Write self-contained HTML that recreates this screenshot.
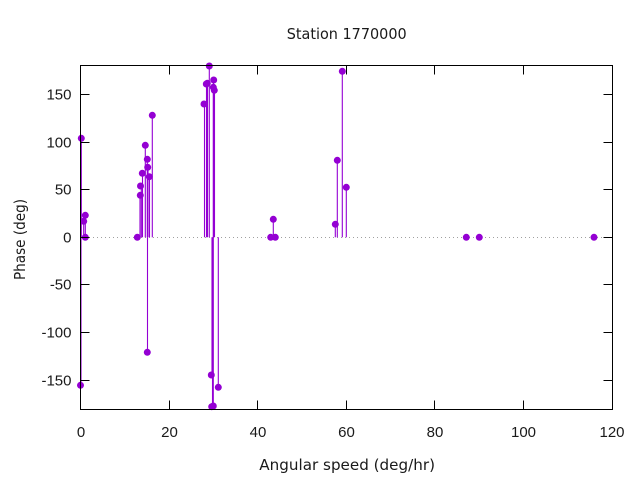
<!DOCTYPE html>
<html><head><meta charset="utf-8"><style>
html,body{margin:0;padding:0;background:#fff;}
svg{display:block;}
</style></head><body>
<svg width="640" height="480" viewBox="0 0 640 480" xmlns="http://www.w3.org/2000/svg">
<rect width="640" height="480" fill="#fff"/>
<!-- zero line -->
<line x1="81" y1="237.5" x2="612" y2="237.5" stroke="#a0a0a0" stroke-width="1" stroke-dasharray="1 3"/>
<!-- stems -->
<g stroke="#9400d3" stroke-width="1.1">
<line x1="81.3" y1="237.3" x2="81.3" y2="138.3"/>
<line x1="81" y1="237.3" x2="81" y2="385.3"/>
<line x1="83.7" y1="237.3" x2="83.7" y2="221.3"/>
<line x1="85.3" y1="237.3" x2="85.3" y2="215.3"/>
<line x1="141.3" y1="237.3" x2="141.3" y2="186"/>
<line x1="140" y1="237.3" x2="140" y2="195.3"/>
<line x1="142.5" y1="237.3" x2="142.5" y2="173.3"/>
<line x1="145.3" y1="237.3" x2="145.3" y2="145.3"/>
<line x1="147.3" y1="237.3" x2="147.3" y2="159.3"/>
<line x1="148" y1="237.3" x2="148" y2="167.3"/>
<line x1="149.5" y1="237.3" x2="149.5" y2="176.7"/>
<line x1="152.3" y1="237.3" x2="152.3" y2="115.3"/>
<line x1="147.5" y1="237.3" x2="147.5" y2="352.3"/>
<line x1="204.5" y1="237.3" x2="204.5" y2="104"/>
<line x1="206.5" y1="237.3" x2="206.5" y2="84"/>
<line x1="207.5" y1="237.3" x2="207.5" y2="83.3"/>
<line x1="209.3" y1="237.3" x2="209.3" y2="66"/>
<line x1="213.5" y1="237.3" x2="213.5" y2="80"/>
<line x1="213.3" y1="237.3" x2="213.3" y2="87.3"/>
<line x1="214.5" y1="237.3" x2="214.5" y2="90.3"/>
<line x1="212" y1="237.3" x2="212" y2="375"/>
<line x1="212.5" y1="237.3" x2="212.5" y2="406.7"/>
<line x1="213.3" y1="237.3" x2="213.3" y2="406"/>
<line x1="218.3" y1="237.3" x2="218.3" y2="387.3"/>
<line x1="273.3" y1="237.3" x2="273.3" y2="219.3"/>
<line x1="335.3" y1="237.3" x2="335.3" y2="224.3"/>
<line x1="337.3" y1="237.3" x2="337.3" y2="160.3"/>
<line x1="342.3" y1="237.3" x2="342.3" y2="71.3"/>
<line x1="346.3" y1="237.3" x2="346.3" y2="187.3"/>
</g>
<!-- markers -->
<g fill="#9400d3">
<circle cx="81.3" cy="138.3" r="3.5"/>
<circle cx="80.5" cy="385.3" r="3.5"/>
<circle cx="83.7" cy="221.3" r="3.5"/>
<circle cx="85.3" cy="215.3" r="3.5"/>
<circle cx="85.3" cy="237.3" r="3.5"/>
<circle cx="137.3" cy="237.3" r="3.5"/>
<circle cx="140.5" cy="186" r="3.5"/>
<circle cx="140.3" cy="195.3" r="3.5"/>
<circle cx="142.3" cy="173.3" r="3.5"/>
<circle cx="145.3" cy="145.3" r="3.5"/>
<circle cx="147.3" cy="159.3" r="3.5"/>
<circle cx="147.7" cy="167.3" r="3.5"/>
<circle cx="149.3" cy="176.7" r="3.5"/>
<circle cx="152.3" cy="115.3" r="3.5"/>
<circle cx="147.3" cy="352.3" r="3.5"/>
<circle cx="204" cy="104" r="3.5"/>
<circle cx="206.3" cy="84" r="3.5"/>
<circle cx="207.3" cy="83.3" r="3.5"/>
<circle cx="209.3" cy="66" r="3.5"/>
<circle cx="213.7" cy="80" r="3.5"/>
<circle cx="213.3" cy="87.3" r="3.5"/>
<circle cx="214.3" cy="90.3" r="3.5"/>
<circle cx="211.3" cy="375" r="3.5"/>
<circle cx="211.7" cy="406.7" r="3.5"/>
<circle cx="213.3" cy="406" r="3.5"/>
<circle cx="218.3" cy="387.3" r="3.5"/>
<circle cx="270.7" cy="237.3" r="3.5"/>
<circle cx="273.3" cy="219.3" r="3.5"/>
<circle cx="275.3" cy="237.3" r="3.5"/>
<circle cx="335.3" cy="224.3" r="3.5"/>
<circle cx="337.3" cy="160.3" r="3.5"/>
<circle cx="342.3" cy="71.3" r="3.5"/>
<circle cx="346.3" cy="187.3" r="3.5"/>
<circle cx="466.3" cy="237.3" r="3.5"/>
<circle cx="479.3" cy="237.3" r="3.5"/>
<circle cx="594" cy="237.3" r="3.5"/>
</g>
<!-- frame -->
<rect x="80.5" y="65.5" width="532" height="344" fill="none" stroke="#000" stroke-width="1"/>
<!-- ticks -->
<g stroke="#000" stroke-width="1">
<line x1="80.5" y1="94.5" x2="89.5" y2="94.5"/><line x1="603.5" y1="94.5" x2="612.5" y2="94.5"/>
<line x1="80.5" y1="142.5" x2="89.5" y2="142.5"/><line x1="603.5" y1="142.5" x2="612.5" y2="142.5"/>
<line x1="80.5" y1="189.5" x2="89.5" y2="189.5"/><line x1="603.5" y1="189.5" x2="612.5" y2="189.5"/>
<line x1="80.5" y1="237.5" x2="89.5" y2="237.5"/><line x1="603.5" y1="237.5" x2="612.5" y2="237.5"/>
<line x1="80.5" y1="284.5" x2="89.5" y2="284.5"/><line x1="603.5" y1="284.5" x2="612.5" y2="284.5"/>
<line x1="80.5" y1="332.5" x2="89.5" y2="332.5"/><line x1="603.5" y1="332.5" x2="612.5" y2="332.5"/>
<line x1="80.5" y1="380.5" x2="89.5" y2="380.5"/><line x1="603.5" y1="380.5" x2="612.5" y2="380.5"/>
<line x1="169.5" y1="409.5" x2="169.5" y2="400.5"/><line x1="169.5" y1="65.5" x2="169.5" y2="74.5"/>
<line x1="257.5" y1="409.5" x2="257.5" y2="400.5"/><line x1="257.5" y1="65.5" x2="257.5" y2="74.5"/>
<line x1="346.5" y1="409.5" x2="346.5" y2="400.5"/><line x1="346.5" y1="65.5" x2="346.5" y2="74.5"/>
<line x1="434.5" y1="409.5" x2="434.5" y2="400.5"/><line x1="434.5" y1="65.5" x2="434.5" y2="74.5"/>
<line x1="523.5" y1="409.5" x2="523.5" y2="400.5"/><line x1="523.5" y1="65.5" x2="523.5" y2="74.5"/>
</g>
<!-- tick labels -->
<g font-family="Liberation Sans, DejaVu Sans, sans-serif" font-size="15" fill="#1a1a1a">
<g text-anchor="end">
<text x="71.5" y="99.5">150</text>
<text x="71.5" y="147.5">100</text>
<text x="71.5" y="194.5">50</text>
<text x="71.5" y="242.5">0</text>
<text x="71.5" y="289.5">-50</text>
<text x="71.5" y="337.5">-100</text>
<text x="71.5" y="385.5">-150</text>
</g>
<g text-anchor="middle">
<text x="81" y="437">0</text>
<text x="169.5" y="437">20</text>
<text x="258" y="437">40</text>
<text x="346.5" y="437">60</text>
<text x="435" y="437">80</text>
<text x="523.5" y="437">100</text>
<text x="612" y="437">120</text>
</g>
</g>
<!-- labels -->
<g font-family="DejaVu Sans, Liberation Sans, sans-serif" font-size="15" fill="#1a1a1a">
<text x="286.7" y="39" textLength="120" lengthAdjust="spacingAndGlyphs">Station 1770000</text>
<text x="259.3" y="470" textLength="175.7" lengthAdjust="spacingAndGlyphs">Angular speed (deg/hr)</text>
<text transform="translate(25,280) rotate(-90)" x="0" y="0" textLength="81" lengthAdjust="spacingAndGlyphs">Phase (deg)</text>
</g>
</svg>
</body></html>
